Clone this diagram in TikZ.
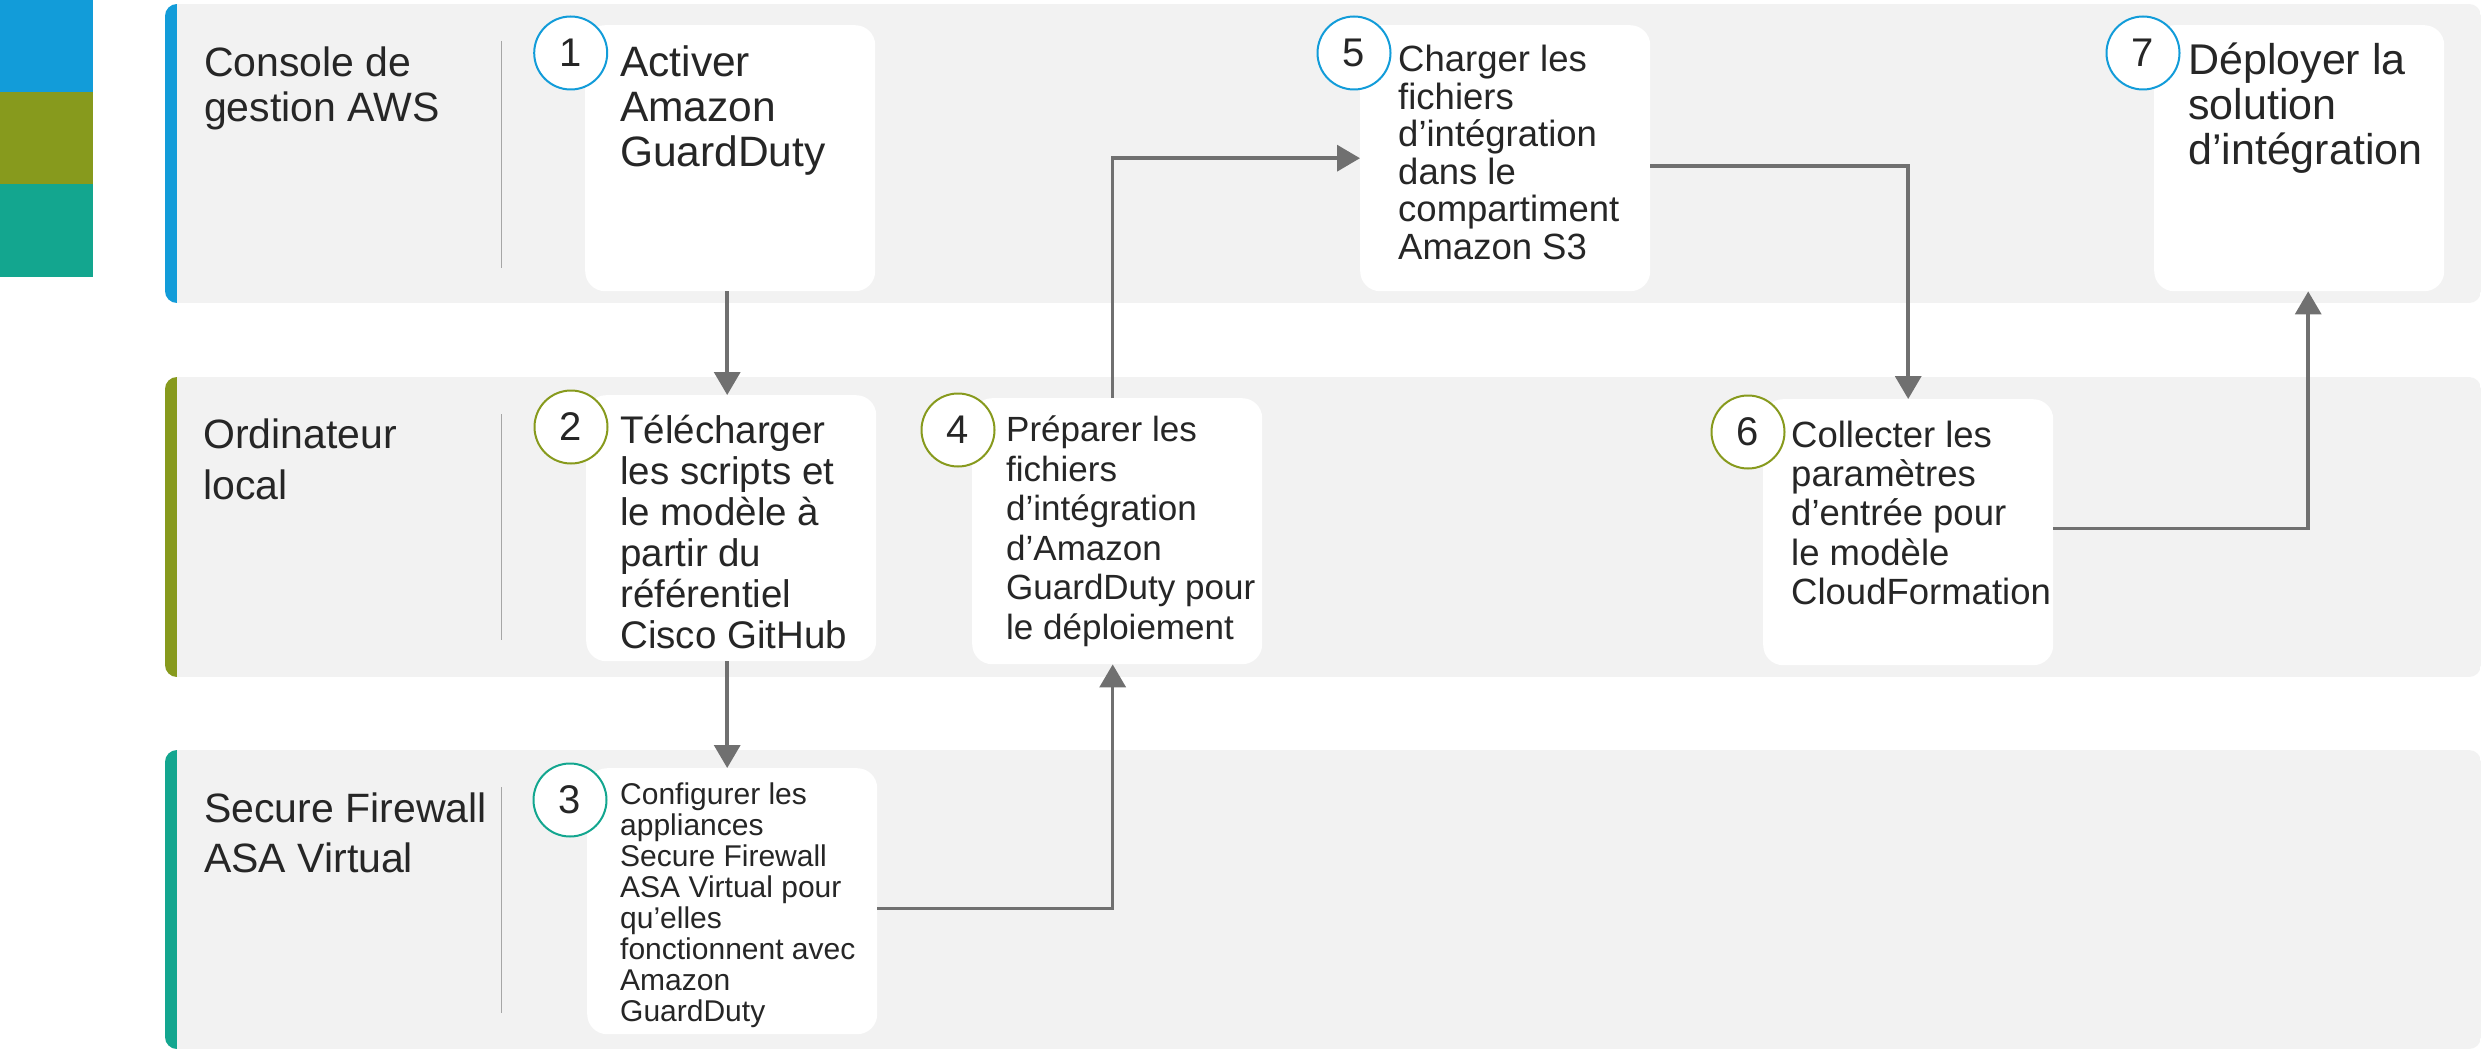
\documentclass[tikz,border=0pt]{standalone}
\usepackage{fontspec}
\setmainfont{Liberation Sans}
\usetikzlibrary{arrows.meta}
\definecolor{cblue}{HTML}{129CD9}
\definecolor{colive}{HTML}{879A1D}
\definecolor{cteal}{HTML}{13A68F}
\definecolor{lanegray}{HTML}{F2F2F2}
\definecolor{textc}{HTML}{262626}
\definecolor{arrowgray}{HTML}{707070}
\definecolor{sepgray}{HTML}{A6A6A6}
\newcommand{\mlines}[3]{\parbox[t]{400pt}{\fontsize{#1}{#2}\selectfont\raggedright #3}}
\begin{document}
\begin{tikzpicture}[x=1pt,y=-1pt,
  stepbox/.style={fill=white, rounded corners=20pt, minimum width=290pt, minimum height=266pt, inner sep=0pt, anchor=north west},
  num/.style={circle, draw=#1, line width=2pt, fill=white, minimum size=73pt, inner sep=0pt, font=\fontsize{40}{40}\selectfont, text=textc},
  txt/.style={anchor=base west, inner sep=0pt, text=textc},
  arr/.style={draw=arrowgray, line width=3.5pt, -{Triangle[length=23pt,width=26pt]}},
  sepline/.style={draw=sepgray, line width=1.5pt}]
\useasboundingbox (0,0) rectangle (2482,1051);
% legend
\fill[cblue] (0,0) rectangle (93,92);
\fill[colive] (0,92) rectangle (93,184);
\fill[cteal] (0,184) rectangle (93,277);
% lanes
\foreach \t/\b/\c in {4/303/cblue, 377/677/colive, 750/1049/cteal} {
  \begin{scope}
    \clip[rounded corners=12pt] (165,\t) rectangle (2481,\b);
    \fill[lanegray] (165,\t) rectangle (2481,\b);
    \fill[\c] (165,\t) rectangle (177,\b);
  \end{scope}
}
% lane labels
\node[txt] (l1) at (204,77) {\mlines{41}{45}{Console de\\gestion AWS}};
\node[txt] (l2) at (203,448) {\mlines{41}{51}{Ordinateur\\local}};
\node[txt] (l3) at (204,822) {\mlines{41}{50}{Secure Firewall\\ASA Virtual}};
\draw[sepline] (501.5,41) -- (501.5,268);
\draw[sepline] (501.5,414) -- (501.5,640);
\draw[sepline] (501.5,787) -- (501.5,1013);
% boxes
\node[stepbox] (b1) at (585,25) {};
\node[stepbox] (b2) at (586,395) {};
\node[stepbox] (b3) at (587,768) {};
\node[stepbox] (b4) at (972,398) {};
\node[stepbox] (b5) at (1360,25) {};
\node[stepbox] (b6) at (1763,399) {};
\node[stepbox] (b7) at (2154,25) {};
% box texts
\node[txt] (t1) at (620,77) {\mlines{42.5}{45}{Activer\\Amazon\\GuardDuty}};
\node[txt] (t2) at (620,443) {\mlines{38.5}{41.1}{Télécharger\\les scripts et\\le modèle à\\partir du\\référentiel\\Cisco GitHub}};
\node[txt] (t3) at (620,804) {\mlines{30}{31.1}{Configurer les\\appliances\\Secure Firewall\\ASA Virtual pour\\qu’elles\\fonctionnent avec\\Amazon\\GuardDuty}};
\node[txt] (t4) at (1006,441.5) {\mlines{35}{39.5}{Préparer les\\fichiers\\d’intégration\\d’Amazon\\GuardDuty pour\\le déploiement}};
\node[txt] (t5) at (1398,72) {\mlines{36.5}{37.5}{Charger les\\fichiers\\d’intégration\\dans le\\compartiment\\Amazon S3}};
\node[txt] (t6) at (1791,447) {\mlines{36.5}{39.4}{Collecter les\\paramètres\\d’entrée pour\\le modèle\\CloudFormation}};
\node[txt] (t7) at (2188,75) {\mlines{43}{45}{Déployer la\\solution\\d’intégration}};
% number circles
\node[num=cblue] (c1) at (570.7,53) {1};
\node[num=colive] (c2) at (571,427) {2};
\node[num=cteal] (c3) at (570,800) {3};
\node[num=colive] (c4) at (958,430) {4};
\node[num=cblue] (c5) at (1354,53) {5};
\node[num=colive] (c6) at (1748,432) {6};
\node[num=cblue] (c7) at (2143,53) {7};
% connectors
\draw[arr] ([xshift=-3pt]b1.south) -- ([xshift=-3pt]b1.south |- b2.north);
\draw[arr] ([xshift=-4pt]b2.south) -- ([xshift=-4pt]b2.south |- b3.north);
\draw[arr] ([yshift=-7.5pt]b3.east) -| ([xshift=-4.5pt]b4.south);
\draw[arr] ([xshift=-4.5pt]b4.north) |- (b5.west);
\draw[arr] ([yshift=-8pt]b5.east) -| (b6.north);
\draw[arr] ([yshift=3.5pt]b6.east) -| ([xshift=9pt]b7.south);
\end{tikzpicture}
\end{document}
